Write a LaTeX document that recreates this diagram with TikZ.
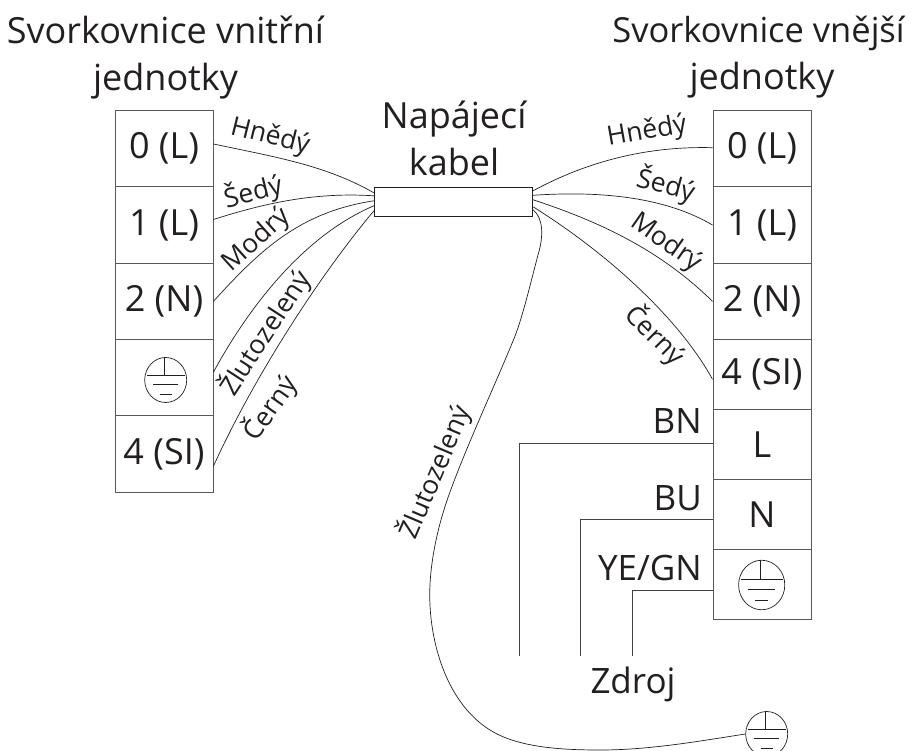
\documentclass[tikz,border=0pt]{standalone}
\usepackage{fontspec}
\setmainfont{Open Sans}
\usetikzlibrary{shapes.geometric,calc}
\definecolor{ink}{HTML}{231F20}
\tikzset{
  x=1pt,y=-1pt,
  cell/.style={draw=ink!75,line width=1pt,minimum width=98pt,text=ink,font=\fontsize{36}{40}\selectfont,inner sep=0pt},
  wire/.style={draw=ink,line width=0.7pt},
  bus/.style={draw=ink!85,line width=0.9pt},
  title/.style={text=ink,font=\fontsize{36}{47}\selectfont,align=center,inner sep=0pt},
  big/.style={text=ink,font=\fontsize{35}{40}\selectfont,inner sep=0pt},
  small/.style={text=ink,font=\fontsize{26.5}{28}\selectfont,inner sep=0pt},
  earthring/.style={ellipse,draw=ink,line width=0.7pt,minimum width=#1*42pt,minimum height=#1*45pt,inner sep=0pt},
  pics/earthbars/.style={code={
    \draw[wire] (-19,-5) -- (19,-5);
    \draw[wire] (-1.5,-23) -- (-1.5,-5);
    \draw[wire] (-12.5,4) -- (12.5,4);
    \draw[wire] (-6,14) -- (6,14);
  }}
}
\begin{document}
\begin{tikzpicture}
\useasboundingbox (0,0) rectangle (918,751);
% left block
\node[cell,minimum height=76pt] (L0) at (164,148.7) {0 (L)};
\node[cell,minimum height=76.6pt] (L1) at (164,225) {1 (L)};
\node[cell,minimum height=76pt] (L2) at (164,301.3) {2 (N)};
\node[cell,minimum height=76pt] (L3) at (164,377.3) {};
\node[cell,minimum height=77.4pt] (L4) at (164,454) {4 (SI)};
% right block
\node[cell,minimum height=76pt] (R0) at (762,148.7) {0 (L)};
\node[cell,minimum height=76.6pt] (R1) at (762,225) {1 (L)};
\node[cell,minimum height=76pt] (R2) at (762,301.3) {2 (N)};
\node[cell,minimum height=70pt] (R4) at (762,374.3) {4 (SI)};
\node[cell,minimum height=70pt] (RL) at (762,444.3) {L};
\node[cell,minimum height=69.7pt] (RN) at (762,514.2) {N};
\node[cell,minimum height=70pt] (RE) at (762,584) {};
% cable
\node[draw=ink,line width=0.8pt,minimum width=158.4pt,minimum height=29pt,inner sep=0pt] (cable) at (453.5,201.8) {};
% earths
\node[earthring=1] (E1) at (165.7,380) {};
\path (E1.center) pic {earthbars};
\node[earthring=1.1] (E2) at (761.7,585) {};
\path (E2.center) pic[scale=1.1] {earthbars};
\node[earthring=1] (E3) at (766.7,734) {};
\path (E3.center) pic {earthbars};
% left wires
\draw[wire] ([yshift=4.7pt]L0.east) .. controls (275,157) and (325,165) .. ([yshift=9pt]cable.west);
\draw[wire] ([yshift=5.5pt]L1.east) .. controls (265,203) and (315,192) .. ([yshift=6pt]cable.west);
\draw[wire] (L2.east) .. controls (260,250) and (300,212) .. ([yshift=1pt]cable.west);
\draw[wire] ([yshift=5.3pt]L3.east) .. controls (250,305) and (305,235) .. ([yshift=-4pt]cable.west);
\draw[wire] ([yshift=-12pt]L4.east) .. controls (255,375) and (320,275) .. ([yshift=-9pt]cable.west);
% right wires
\draw[wire] ([yshift=11pt]cable.east) .. controls (590,160) and (650,146) .. ([yshift=1pt]R0.west);
\draw[wire] ([yshift=6.5pt]cable.east) .. controls (610,190) and (670,200) .. (R1.west);
\draw[wire] ([yshift=2pt]cable.east) .. controls (610,225) and (665,255) .. (R2.west);
\draw[wire] ([yshift=-5pt]cable.east) .. controls (610,255) and (680,320) .. ([yshift=-5pt]R4.west);
% earth wire
\draw[wire] ([yshift=-8pt]cable.east) .. controls (543,218) and (544,235) .. (538,255)
  .. controls (530,285) and (522,320) .. (513,341)
  .. controls (495,385) and (467,445) .. (450,492)
  .. controls (437,527) and (428,570) .. (430,605)
  .. controls (432,650) and (450,710) .. (497,734)
  .. controls (525,748) and (565,750) .. (600,750)
  .. controls (650,750) and (700,741) .. (E3.west);
% supply
\coordinate (sBN) at (519.5,656);
\coordinate (sBU) at (580.5,656);
\coordinate (sYE) at (632.5,656);
\draw[bus] ([yshift=1pt]RL.west) -| (sBN);
\draw[bus] ([yshift=-5pt]RN.west) -| (sBU);
\draw[bus] ([yshift=-6pt]RE.west) -| (sYE);
% titles
\node[title] (t1) at (165.5,57.5) {Svorkovnice vnitřní\\jednotky};
\node[title] (t2) at (758.5,57.5) {{\fontsize{34.5}{47}\selectfont Svorkovnice vnější}\\\hspace*{7pt}jednotky};
\node[title] (t3) at (454,138.5) {Napájecí\\kabel};
% wire labels left
\node[small,rotate=-14] (a1) at (270,137) {Hnědý};
\node[small,rotate=14] (a2) at (253,192) {Šedý};
\node[small,rotate=42] (a3) at (257,240) {Modrý};
\node[small,rotate=57] (a4) at (265,333) {Žlutozelený};
\node[small,rotate=55] (a5) at (270,408) {Černý};
% wire labels right
\node[small,rotate=10] (b1) at (647,132) {Hnědý};
\node[small,rotate=-15] (b2) at (666,185) {Šedý};
\node[small,rotate=-35] (b3) at (666,243) {Modrý};
\node[small,rotate=-45] (b4) at (655,335) {Černý};
\node[small,rotate=67] (b5) at (435,472) {Žlutozelený};
% supply labels
\node[big,anchor=base east] (c1) at (702,433) {BN};
\node[big,anchor=base east] (c2) at (702,510) {BU};
\node[big,anchor=base east] (c3) at (702,580) {YE/GN};
\node[big] (c4) at (633,684) {Zdroj};
\end{tikzpicture}
\end{document}
